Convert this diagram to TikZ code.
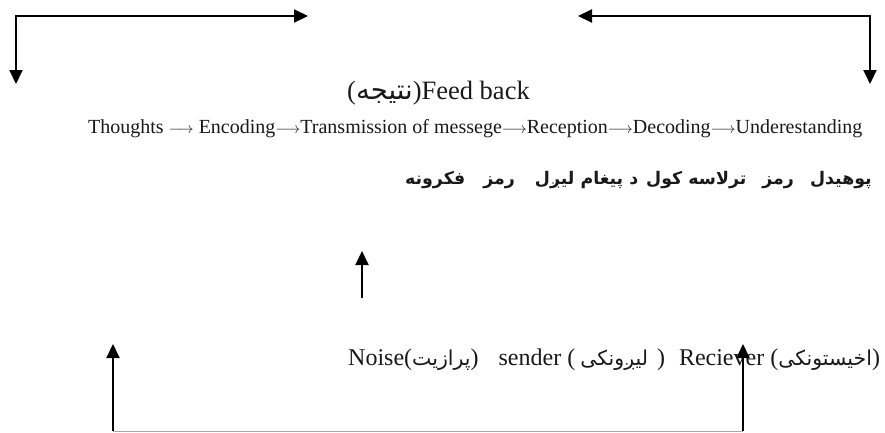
\documentclass[tikz,border=0pt]{standalone}
\usepackage{graphicx}
\usepackage{fontspec}
\setmainfont{Liberation Serif}
\newfontfamily\ar[Script=Arabic]{DejaVu Sans}
\usetikzlibrary{arrows.meta}
\TeXXeTstate=1
\tikzset{
  conn/.style={line width=2pt, black},
  tip/.style={-{Triangle[length=14pt,width=13pt]}},
  tips/.style={{Triangle[length=14pt,width=13pt]}-{Triangle[length=14pt,width=13pt]}},
  base/.style={line width=0.8pt, black!35},
  lbl/.style={inner sep=0pt, text=black!90},
}
\newcommand\arw[1]{{\ar\fontsize{20.5}{24}\selectfont\beginR #1\endR}}
\newcommand\lra{\resizebox{25pt}{!}{$\longrightarrow$}}
\begin{document}
\begin{tikzpicture}[x=1pt,y=-1pt]
\useasboundingbox (0,0) rectangle (885,432);
% coordinates
\coordinate (tlr) at (308,16);
\coordinate (tld) at (16,84);
\coordinate (trl) at (578,16);
\coordinate (trd) at (870,84);
\coordinate (ma) at (362,298);
\coordinate (mb) at (362,251);
\coordinate (bl) at (113,431);
\coordinate (blt) at (113,344);
\coordinate (br) at (743,431);
\coordinate (brt) at (743,344);
% texts
\node[lbl, anchor=base west, font=\fontsize{26.5}{30}\selectfont] (fb) at (347,99)
  {({\ar\fontsize{27.5}{30}\selectfont\beginR نتیجه\endR})Feed back};
\node[lbl, anchor=base west, font=\fontsize{20}{24}\selectfont] (th) at (88,133)
  {Thoughts \lra{} Encoding\lra{}Transmission of messege\lra{}Reception\lra{}Decoding\lra{}Underestanding};
\node[lbl, anchor=base east, font=\ar\bfseries\fontsize{17.4}{21}\selectfont] (ps) at (872,184)
  {\beginR پوهیدل\hspace{16pt}رمز\hspace{16pt}ترلاسه کول\hspace{8pt}د پیغام لیږل\hspace{20pt}رمز\hspace{18pt}فکرونه\endR};
\node[lbl, anchor=base west, font=\fontsize{24}{28}\selectfont] (ns) at (348,365)
  {Noise(\arw{پرازیت})\hspace{20pt}sender (\hspace{5pt}\arw{لیږونکی}\hspace{9pt})\hspace{14pt}Reciever (\arw{اخیستونکی})};
% connectors
\draw[conn, tips] (tld) |- (tlr);
\draw[conn, tips] (trl) -| (trd);
\draw[conn, tip] (ma) -- (mb);
\draw[base] (bl) -- (br);
\draw[conn, tip] (bl) -- (blt);
\draw[conn, tip] (br) -- (brt);
\end{tikzpicture}
\end{document}
